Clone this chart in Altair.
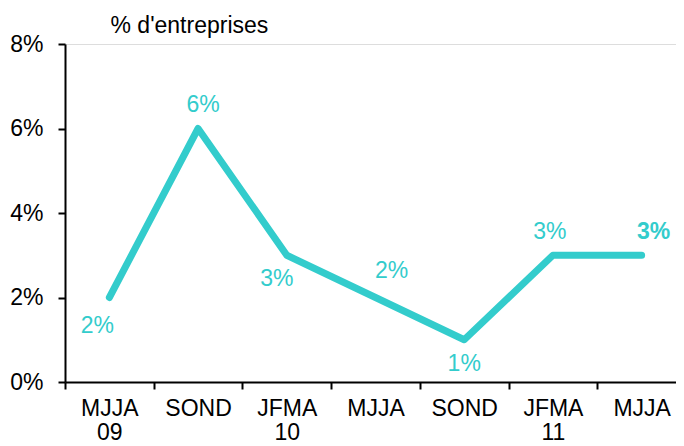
import altair as alt
import pandas as pd

# ---- data ----
periods = ["MJJA 09", "SOND 09", "JFMA 10", "MJJA 10", "SOND 10", "JFMA 11", "MJJA 11"]
axis_labels = [["MJJA", "09"], ["SOND"], ["JFMA", "10"], ["MJJA"], ["SOND"], ["JFMA", "11"], ["MJJA"]]
values = [2, 6, 3, 2, 1, 3, 3]
y_ticks = [0, 2, 4, 6, 8]
y_title = "% d'entreprises"

df = pd.DataFrame({
    "idx": list(range(len(periods))),
    "period": periods,
    "value": values,
    "label": [f"{v}%" for v in values],
})

COLOR = "#33CCCC"
FONT = "Liberation Sans"
FS = 23

label_expr = "[" + ",".join("[" + ",".join(f"'{p}'" for p in lab) + "]" for lab in axis_labels) + "][datum.value]"

x_enc = alt.X(
    "idx:O",
    bandPosition=0.5,
    scale=alt.Scale(type="band", paddingInner=0, paddingOuter=0, range=[0, 621]),
    axis=alt.Axis(
        title=None, labelAngle=0, labelExpr=label_expr, tickBand="extent",
        domainColor="black", domainWidth=2, tickColor="black", tickWidth=2, tickSize=7,
        labelFont=FONT, labelFontSize=FS, labelColor="black", labelPadding=8,
        labelLineHeight=24, labelBaseline="top",
    ),
)
y_enc = alt.Y(
    "value:Q",
    scale=alt.Scale(domain=[0, 8], nice=False),
    axis=alt.Axis(
        values=y_ticks, format=".0f", labelExpr="datum.value + '%'", grid=False,
        domainColor="black", domainWidth=2, tickColor="black", tickWidth=2, tickSize=7,
        labelFont=FONT, labelFontSize=FS, labelColor="black", labelPadding=15,
        title=y_title, titleAngle=0, titleX=45, titleY=-19, titleAlign="left",
        titleBaseline="middle", titleFont=FONT, titleFontSize=FS, titleFontWeight="normal",
        titleColor="black",
    ),
)

line = alt.Chart(df).mark_line(
    color=COLOR, strokeWidth=7, strokeCap="round", strokeJoin="round"
).encode(x=x_enc, y=y_enc)

# label offsets per point (dx, dy, bold)
offsets = [(-12, 28, False), (5, -24, False), (-10, 24, False), (16, -27, False),
           (0, 24, False), (-3, -23, False), (12, -23, True)]

layers = [line]
for i, (dx, dy, bold) in enumerate(offsets):
    t = alt.Chart(df).transform_filter(alt.datum.idx == i).mark_text(
        color=COLOR, font=FONT, fontSize=FS, dx=dx, dy=dy,
        fontWeight="bold" if bold else "normal", baseline="middle", align="center",
    ).encode(x=alt.X("idx:O", bandPosition=0.5), y=alt.Y("value:Q"), text="label:N")
    layers.append(t)

chart = alt.layer(*layers).properties(
    width=611, height=338,
    autosize=alt.AutoSizeParams(type="none"),
    padding={"left": 57, "top": 36, "right": 0, "bottom": 64},
).configure_view(stroke=None).configure(background="white")

chart.save("out.html", embed_options={"renderer": "svg", "actions": False})
